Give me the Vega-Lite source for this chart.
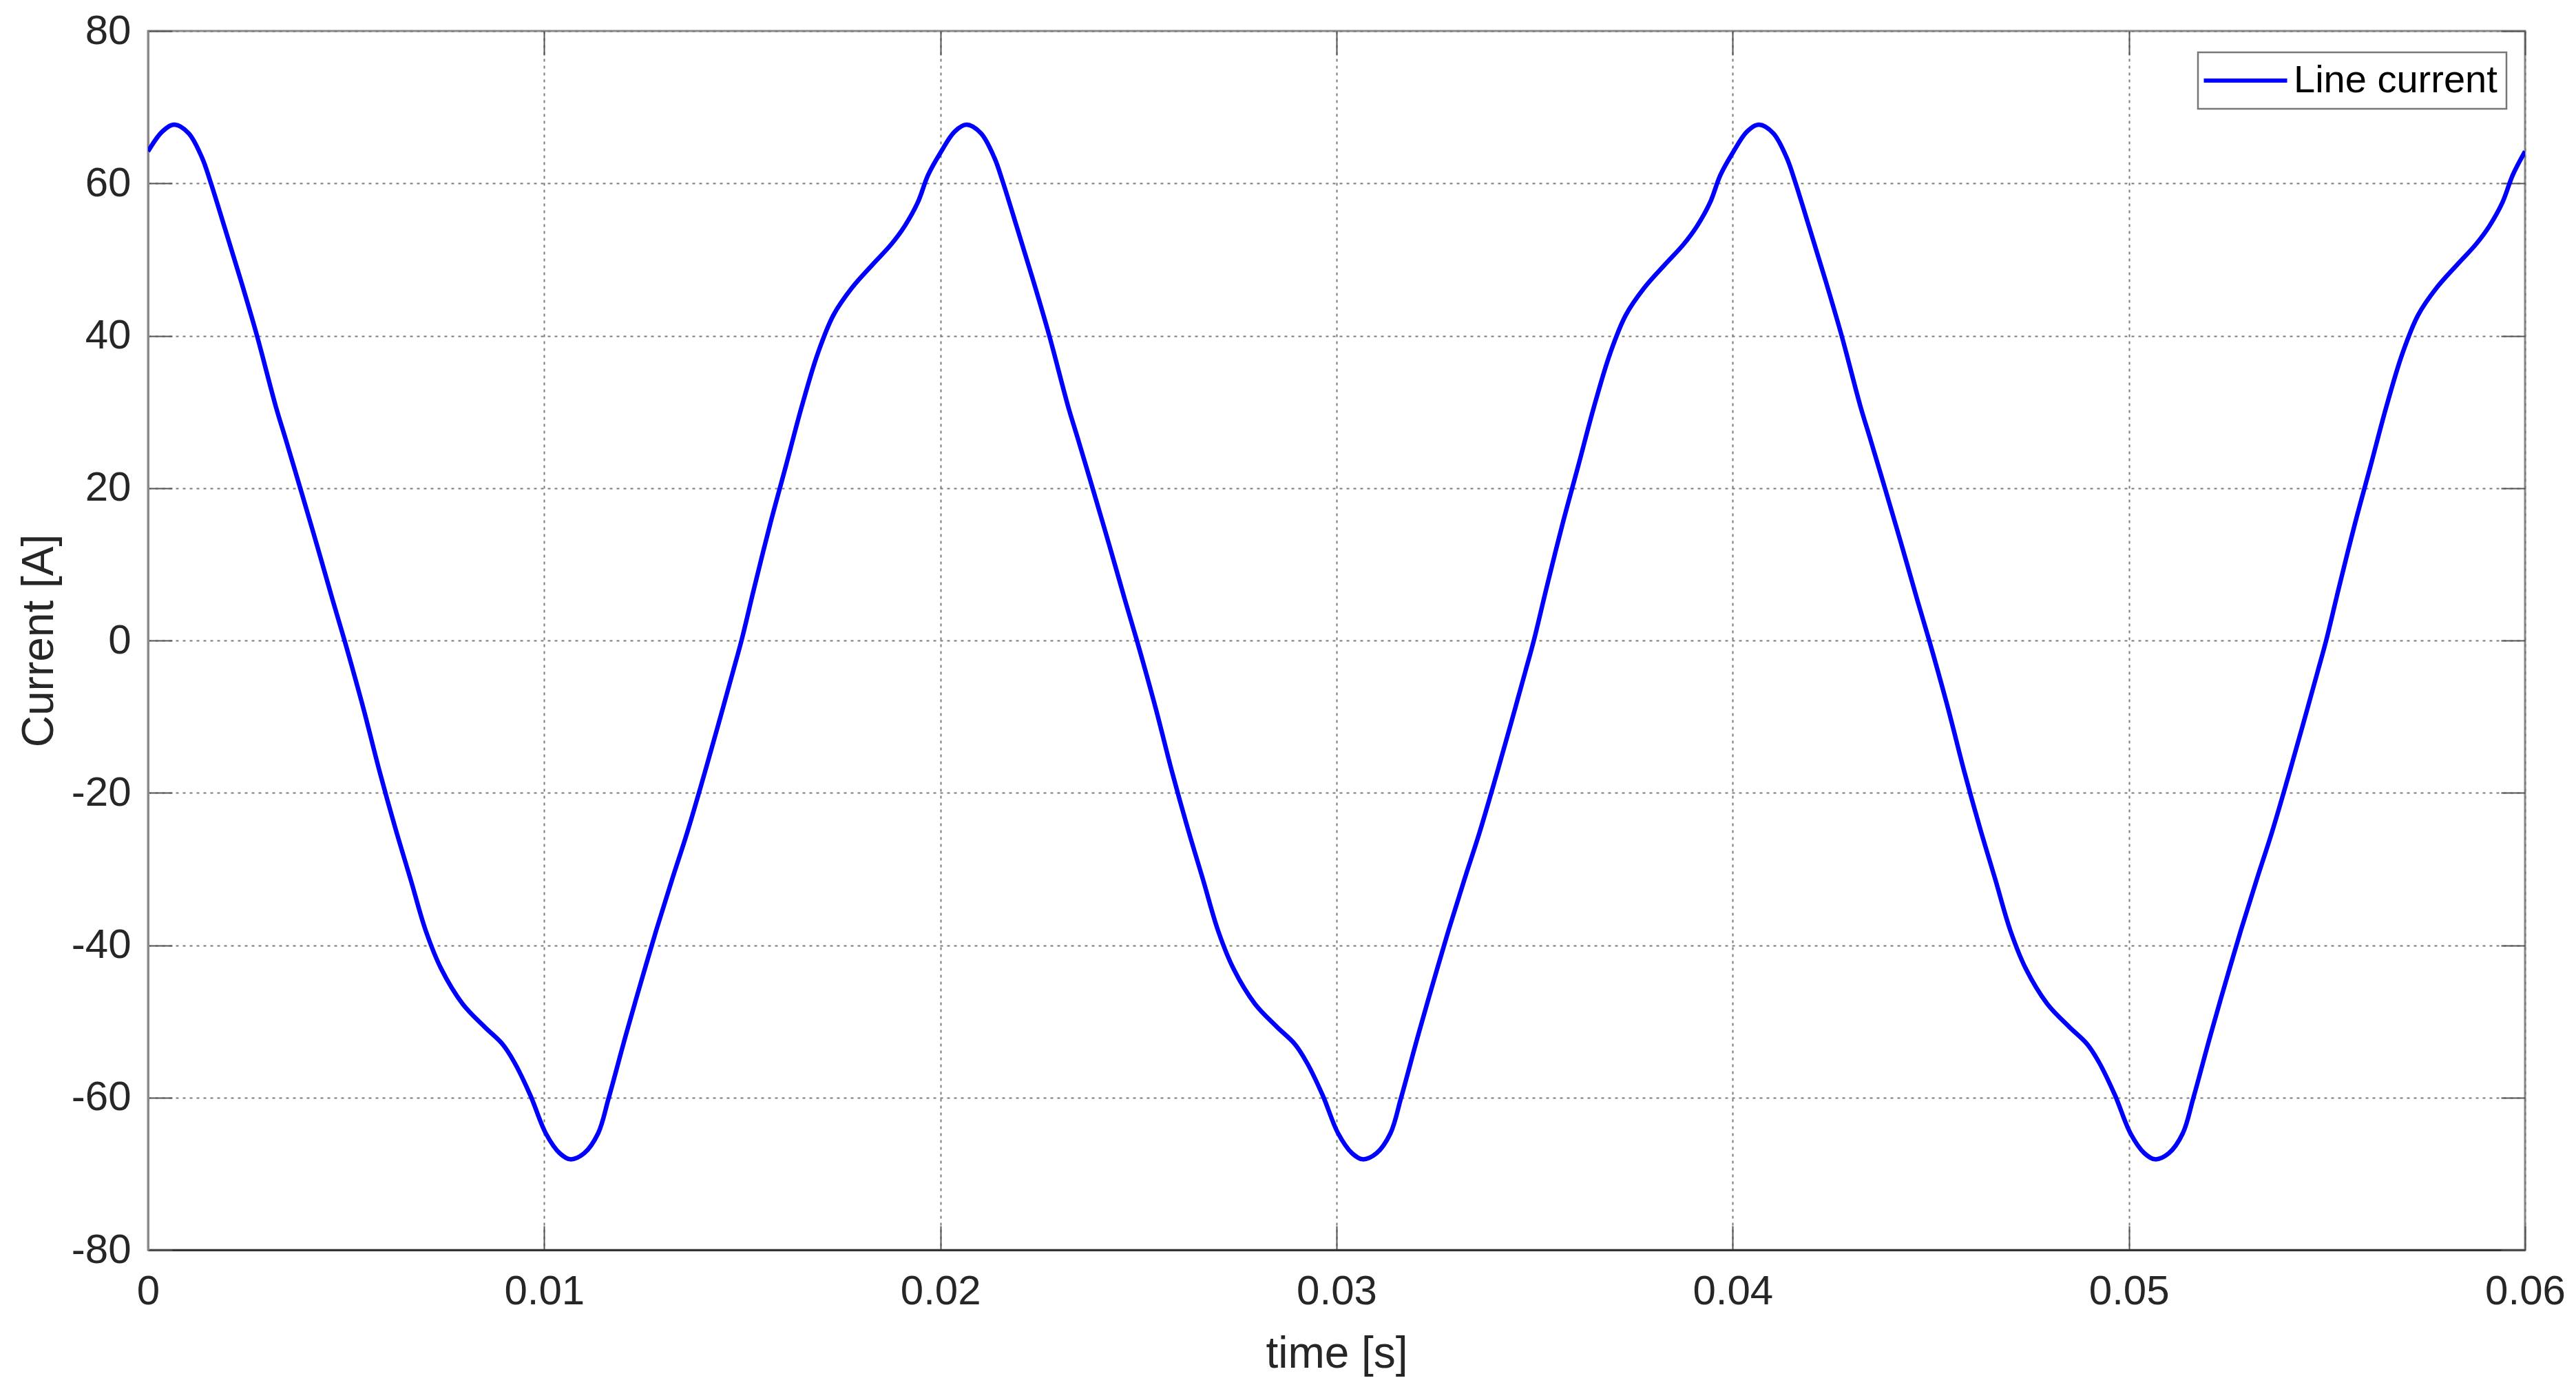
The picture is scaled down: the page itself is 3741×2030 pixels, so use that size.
{
  "$schema": "https://vega.github.io/schema/vega-lite/v6.json",
  "width": 3452,
  "height": 1770,
  "autosize": {"type": "none"},
  "padding": {"left": 215, "top": 45, "right": 74, "bottom": 215},
  "background": "white",
  "config": {
    "view": {"stroke": "#8a8a8a", "strokeWidth": 3},
    "font": "Liberation Sans"
  },
  "data": {
    "values": [
      {"t": 0, "i": 64.2}, {"t": 0.00036, "i": 66.8}, {"t": 0.00066, "i": 67.7}, {"t": 0.00102, "i": 66.6}, {"t": 0.00136, "i": 63.4}, {"t": 0.00157, "i": 60.3}, {"t": 0.00194, "i": 54.1}, {"t": 0.00234, "i": 47.3}, {"t": 0.00275, "i": 40.0}, {"t": 0.00322, "i": 30.8}, {"t": 0.00347, "i": 26.5}, {"t": 0.00387, "i": 19.5}, {"t": 0.00427, "i": 12.4}, {"t": 0.00466, "i": 5.3}, {"t": 0.00496, "i": 0}, {"t": 0.00543, "i": -8.8}, {"t": 0.00585, "i": -17.3}, {"t": 0.00624, "i": -24.6}, {"t": 0.00663, "i": -31.4}, {"t": 0.00701, "i": -38.1}, {"t": 0.0074, "i": -43.1}, {"t": 0.00794, "i": -47.7}, {"t": 0.00849, "i": -50.7}, {"t": 0.00895, "i": -53.0}, {"t": 0.00926, "i": -55.5}, {"t": 0.00965, "i": -59.7}, {"t": 0.01004, "i": -64.7}, {"t": 0.01039, "i": -67.3}, {"t": 0.01066, "i": -68.1}, {"t": 0.01101, "i": -67.3}, {"t": 0.01136, "i": -64.7}, {"t": 0.01163, "i": -60.0}, {"t": 0.01206, "i": -51.8}, {"t": 0.01244, "i": -44.9}, {"t": 0.01283, "i": -38.0}, {"t": 0.01322, "i": -31.5}, {"t": 0.01361, "i": -25.2}, {"t": 0.014, "i": -18.3}, {"t": 0.01438, "i": -11.3}, {"t": 0.01477, "i": -4.0}, {"t": 0.01498, "i": 0}, {"t": 0.0153, "i": 6.9}, {"t": 0.0157, "i": 15.2}, {"t": 0.0161, "i": 22.9}, {"t": 0.0165, "i": 30.7}, {"t": 0.0169, "i": 37.6}, {"t": 0.0173, "i": 42.7}, {"t": 0.01777, "i": 46.3}, {"t": 0.0183, "i": 49.4}, {"t": 0.01876, "i": 52.0}, {"t": 0.0191, "i": 54.4}, {"t": 0.01943, "i": 57.5}, {"t": 0.01969, "i": 61.1},
      {"t": 0.02, "i": 64.0}, {"t": 0.02036, "i": 66.8}, {"t": 0.02066, "i": 67.7}, {"t": 0.02102, "i": 66.6}, {"t": 0.02136, "i": 63.4}, {"t": 0.02157, "i": 60.3}, {"t": 0.02194, "i": 54.1}, {"t": 0.02234, "i": 47.3}, {"t": 0.02275, "i": 40.0}, {"t": 0.02322, "i": 30.8}, {"t": 0.02347, "i": 26.5}, {"t": 0.02387, "i": 19.5}, {"t": 0.02427, "i": 12.4}, {"t": 0.02466, "i": 5.3}, {"t": 0.02496, "i": 0}, {"t": 0.02543, "i": -8.8}, {"t": 0.02585, "i": -17.3}, {"t": 0.02624, "i": -24.6}, {"t": 0.02663, "i": -31.4}, {"t": 0.02701, "i": -38.1}, {"t": 0.0274, "i": -43.1}, {"t": 0.02794, "i": -47.7}, {"t": 0.02849, "i": -50.7}, {"t": 0.02895, "i": -53.0}, {"t": 0.02926, "i": -55.5}, {"t": 0.02965, "i": -59.7}, {"t": 0.03004, "i": -64.7}, {"t": 0.03039, "i": -67.3}, {"t": 0.03066, "i": -68.1}, {"t": 0.03101, "i": -67.3}, {"t": 0.03136, "i": -64.7}, {"t": 0.03163, "i": -60.0}, {"t": 0.03206, "i": -51.8}, {"t": 0.03244, "i": -44.9}, {"t": 0.03283, "i": -38.0}, {"t": 0.03322, "i": -31.5}, {"t": 0.03361, "i": -25.2}, {"t": 0.034, "i": -18.3}, {"t": 0.03438, "i": -11.3}, {"t": 0.03477, "i": -4.0}, {"t": 0.03498, "i": 0}, {"t": 0.0353, "i": 6.9}, {"t": 0.0357, "i": 15.2}, {"t": 0.0361, "i": 22.9}, {"t": 0.0365, "i": 30.7}, {"t": 0.0369, "i": 37.6}, {"t": 0.0373, "i": 42.7}, {"t": 0.03777, "i": 46.3}, {"t": 0.0383, "i": 49.4}, {"t": 0.03876, "i": 52.0}, {"t": 0.0391, "i": 54.4}, {"t": 0.03943, "i": 57.5}, {"t": 0.03969, "i": 61.1},
      {"t": 0.04, "i": 64.0}, {"t": 0.04036, "i": 66.8}, {"t": 0.04066, "i": 67.7}, {"t": 0.04102, "i": 66.6}, {"t": 0.04136, "i": 63.4}, {"t": 0.04157, "i": 60.3}, {"t": 0.04194, "i": 54.1}, {"t": 0.04234, "i": 47.3}, {"t": 0.04275, "i": 40.0}, {"t": 0.04322, "i": 30.8}, {"t": 0.04347, "i": 26.5}, {"t": 0.04387, "i": 19.5}, {"t": 0.04427, "i": 12.4}, {"t": 0.04466, "i": 5.3}, {"t": 0.04496, "i": 0}, {"t": 0.04543, "i": -8.8}, {"t": 0.04585, "i": -17.3}, {"t": 0.04624, "i": -24.6}, {"t": 0.04663, "i": -31.4}, {"t": 0.04701, "i": -38.1}, {"t": 0.0474, "i": -43.1}, {"t": 0.04794, "i": -47.7}, {"t": 0.04849, "i": -50.7}, {"t": 0.04895, "i": -53.0}, {"t": 0.04926, "i": -55.5}, {"t": 0.04965, "i": -59.7}, {"t": 0.05004, "i": -64.7}, {"t": 0.05039, "i": -67.3}, {"t": 0.05066, "i": -68.1}, {"t": 0.05101, "i": -67.3}, {"t": 0.05136, "i": -64.7}, {"t": 0.05163, "i": -60.0}, {"t": 0.05206, "i": -51.8}, {"t": 0.05244, "i": -44.9}, {"t": 0.05283, "i": -38.0}, {"t": 0.05322, "i": -31.5}, {"t": 0.05361, "i": -25.2}, {"t": 0.054, "i": -18.3}, {"t": 0.05438, "i": -11.3}, {"t": 0.05477, "i": -4.0}, {"t": 0.05498, "i": 0}, {"t": 0.0553, "i": 6.9}, {"t": 0.0557, "i": 15.2}, {"t": 0.0561, "i": 22.9}, {"t": 0.0565, "i": 30.7}, {"t": 0.0569, "i": 37.6}, {"t": 0.0573, "i": 42.7}, {"t": 0.05777, "i": 46.3}, {"t": 0.0583, "i": 49.4}, {"t": 0.05876, "i": 52.0}, {"t": 0.0591, "i": 54.4}, {"t": 0.05943, "i": 57.5}, {"t": 0.05969, "i": 61.1}, {"t": 0.06, "i": 64.2}
    ]
  },
  "layer": [
    {
      "mark": {"type": "line", "strokeWidth": 6.5, "interpolate": "catmull-rom", "clip": true},
      "encoding": {
        "x": {
          "field": "t", "type": "quantitative",
          "scale": {"domain": [0, 0.06], "nice": false, "zero": false},
          "axis": {
            "orient": "bottom",
            "values": [0, 0.01, 0.02, 0.03, 0.04, 0.05, 0.06],
            "labelExpr": "'' + round(datum.value * 100) / 100",
            "title": "time [s]",
            "grid": true, "gridColor": "#7a7a7a", "gridDash": [4, 6], "gridWidth": 2,
            "domainColor": "#333333", "domainWidth": 3,
            "tickColor": "#555555", "tickWidth": 2, "tickSize": -35,
            "labelPadding": 66, "labelFontSize": 60, "labelColor": "#262626", "labelFont": "Liberation Sans",
            "labelFlush": false, "labelOverlap": false,
            "titleFontSize": 64, "titleFontWeight": "normal", "titleColor": "#262626", "titleFont": "Liberation Sans",
            "titleY": 151, "titleBaseline": "middle"
          }
        },
        "y": {
          "field": "i", "type": "quantitative",
          "scale": {"domain": [-80, 80], "nice": false},
          "axis": {
            "orient": "left",
            "values": [-80, -60, -40, -20, 0, 20, 40, 60, 80],
            "labelExpr": "'' + datum.value",
            "title": "Current [A]",
            "grid": true, "gridColor": "#7a7a7a", "gridDash": [4, 6], "gridWidth": 2,
            "domainColor": "#8a8a8a", "domainWidth": 3,
            "tickColor": "#555555", "tickWidth": 2, "tickSize": -35,
            "labelPadding": 60, "labelFontSize": 60, "labelColor": "#262626", "labelFont": "Liberation Sans",
            "labelFlush": false, "labelOverlap": false,
            "titleFontSize": 64, "titleFontWeight": "normal", "titleColor": "#262626", "titleFont": "Liberation Sans",
            "titleAngle": 270, "titleX": -158, "titleY": 885, "titleBaseline": "middle", "titleAlign": "center"
          }
        },
        "color": {
          "datum": "Line current",
          "scale": {"range": ["#0000ff"]},
          "legend": {
            "orient": "none", "legendX": 2977, "legendY": 31,
            "title": null,
            "symbolType": "M-3,0H3", "symbolSize": 1626, "symbolStrokeWidth": 6, "symbolOffset": 28,
            "labelFontSize": 56, "labelColor": "#000000", "labelFont": "Liberation Sans", "labelOffset": 42,
            "padding": 13, "strokeColor": "#777777", "fillColor": "#ffffff",
            "labelLimit": 1000,
            "encode": {"legend": {"update": {"strokeWidth": {"value": 2.5}}}}
          }
        }
      }
    },
    {
      "mark": {"type": "line", "strokeOpacity": 0},
      "encoding": {
        "x": {
          "field": "t", "type": "quantitative",
          "axis": {
            "orient": "top", "values": [0, 0.01, 0.02, 0.03, 0.04, 0.05, 0.06],
            "labels": false, "title": null, "grid": false, "domain": false,
            "tickColor": "#555555", "tickWidth": 2, "tickSize": -35
          }
        },
        "y": {
          "field": "i", "type": "quantitative",
          "axis": {
            "orient": "right", "values": [-80, -60, -40, -20, 0, 20, 40, 60, 80],
            "labels": false, "title": null, "grid": false, "domain": false,
            "tickColor": "#555555", "tickWidth": 2, "tickSize": -35
          }
        }
      }
    }
  ],
  "resolve": {"axis": {"x": "independent", "y": "independent"}}
}
